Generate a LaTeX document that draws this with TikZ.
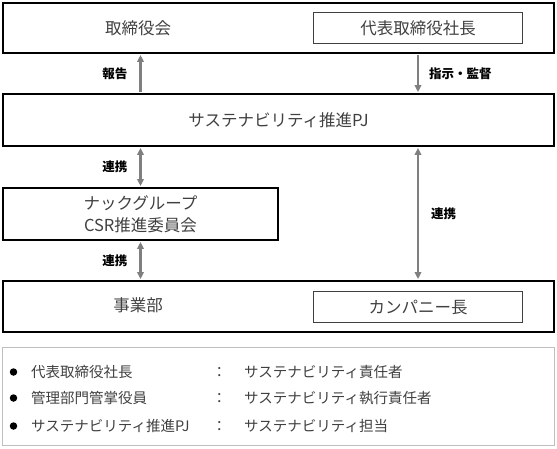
\documentclass[tikz,border=0pt]{standalone}
\usepackage{fontspec}
\setmainfont{Noto Sans CJK JP}
\usepackage{xcolor}
\usetikzlibrary{arrows.meta}
\definecolor{linkgray}{RGB}{127, 127, 127}
\definecolor{textgray}{RGB}{64, 64, 64}
\definecolor{framegray}{RGB}{191, 191, 191}

\begin{document}
\begin{tikzpicture}[
    x=1pt, y=-1pt,
    box/.style={rectangle, draw=black, line width=1.8pt, inner sep=0pt, font=\fontsize{16.5}{22}\selectfont, text=textgray, align=center},
    subbox/.style={rectangle, draw=textgray, line width=1pt, inner sep=0pt, minimum width=209, minimum height=31, font=\fontsize{16.5}{22}\selectfont, text=textgray},
    plain/.style={inner sep=0pt, font=\fontsize{16.5}{22}\selectfont, text=textgray},
    arrow/.style={-{Triangle[length=7pt, width=6.5pt]}, line width=2.4pt, linkgray, shorten <=1pt, shorten >=1pt},
    biarrow/.style={arrow, {Triangle[length=7pt, width=6.5pt]}-{Triangle[length=7pt, width=6.5pt]}},
    tag/.style={inner sep=0pt, font=\fontsize{12.5}{15}\selectfont\bfseries, text=black},
    legtext/.style={inner sep=0pt, font=\fontsize{14.5}{17}\selectfont, text=textgray, anchor=west},
    dot/.style={circle, fill=black, inner sep=0pt, minimum size=7.5pt}
]
\useasboundingbox (0,0) rectangle (557,448);

% organisation
\node[box, minimum width=551, minimum height=50] (board) at (278.5,28) {};
\node[plain] (boardtxt) at (138,28) {取締役会};
\node[subbox] (ceo) at (418,28) {代表取締役社長};

\node[box, minimum width=551, minimum height=52] (pj) at (278.5,120) {サステナビリティ推進PJ};
\node[box, minimum width=275, minimum height=52] (csr) at (140.5,214) {ナックグループ\\CSR推進委員会};

\node[box, minimum width=551, minimum height=51] (biz) at (278.5,306.5) {};
\node[plain] (biztxt) at (138,305) {事業部};
\node[subbox] (company) at (418,307) {カンパニー長};

% links
\draw[arrow] (pj.north -| csr) -- node[tag, left=12pt] {報告} (board.south -| csr);
\draw[arrow] (board.south -| ceo) -- node[tag, right=10pt] {指示・監督} (pj.north -| ceo);
\draw[biarrow] (pj.south -| csr) -- node[tag, left=12pt] {連携} (csr.north);
\draw[biarrow] (csr.south) -- node[tag, left=12pt] {連携} (biz.north -| csr);
\draw[biarrow] (pj.south -| ceo) -- node[tag, right=12pt] {連携} (biz.north -| ceo);

% legend
\node[rectangle, draw=framegray, line width=1.2pt, minimum width=552, minimum height=98] (legend) at (278.5,396.5) {};

\node[dot] (dot1) at (13.5,372) {};
\node[legtext] (role1) at (31,372) {代表取締役社長};
\node[legtext] (sep1) at (212,372) {：};
\node[legtext] (duty1) at (244,372) {サステナビリティ責任者};

\node[dot] (dot2) at (13.5,398) {};
\node[legtext] (role2) at (31,398) {管理部門管掌役員};
\node[legtext] (sep2) at (212,398) {：};
\node[legtext] (duty2) at (244,398) {サステナビリティ執行責任者};

\node[dot] (dot3) at (13.5,426) {};
\node[legtext] (role3) at (31,426) {サステナビリティ推進PJ};
\node[legtext] (sep3) at (212,426) {：};
\node[legtext] (duty3) at (244,426) {サステナビリティ担当};

\end{tikzpicture}
\end{document}
